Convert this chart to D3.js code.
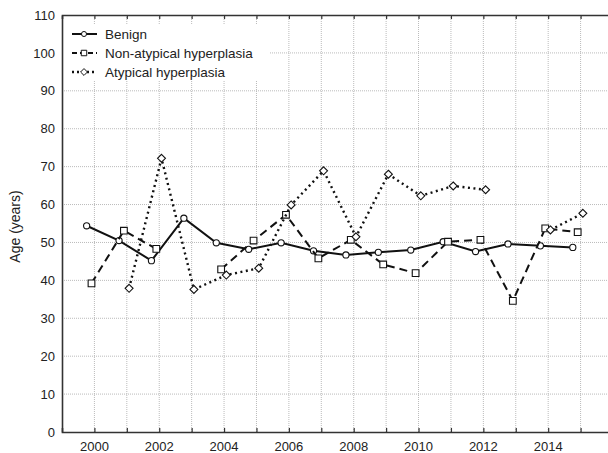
<!DOCTYPE html>
<html>
<head>
<meta charset="utf-8">
<script src="https://cdn.jsdelivr.net/npm/d3@7"></script>
<style>
  body { margin: 0; background: #fff; }
  svg { display: block; font-family: "Liberation Sans", Arial, sans-serif; }
</style>
</head>
<body>
<div id="chart"></div>
<script>
// data
const years = [2000, 2001, 2002, 2003, 2004, 2005, 2006, 2007, 2008, 2009, 2010, 2011, 2012, 2013, 2014, 2015];
const benign = [54.4, 50.5, 45.2, 56.4, 49.9, 48.2, 49.9, 47.8, 46.7, 47.4, 48.0, 50.2, 47.6, 49.6, 49.1, 48.7];
const nonAtypical = [39.2, 53.1, 48.3, null, 42.9, 50.5, 57.3, 45.8, 50.7, 44.2, 41.9, 50.2, 50.7, 34.6, 53.7, 52.7];
const atypical = [null, 37.9, 72.2, 37.6, 41.4, 43.2, 59.9, 68.9, 51.5, 68.0, 62.3, 64.9, 63.9, null, 53.3, 57.7];
const yTicks = [0, 10, 20, 30, 40, 50, 60, 70, 80, 90, 100, 110];
const xLabels = [2000, 2002, 2004, 2006, 2008, 2010, 2012, 2014];
const seriesNames = ['Benign', 'Non-atypical hyperplasia', 'Atypical hyperplasia'];

const width = 608, height = 453;
const margin = { top: 15, right: -5, bottom: 21, left: 62 };
const innerW = width - margin.left - margin.right;
const innerH = height - margin.top - margin.bottom;

const svg = d3.select('#chart')
    .append('svg')
    .attr('width', width)
    .attr('height', height);

const g = svg.append('g')
    .attr('transform', `translate(${margin.left},${margin.top})`);

const x = d3.scaleLinear().domain([1999, 2016]).range([0, innerW]);
const y = d3.scaleLinear().domain([0, 110]).range([innerH, 0]);

// grid
g.append('g')
    .selectAll('line')
    .data(d3.range(2000, 2016))
    .join('line')
    .attr('x1', d => x(d)).attr('x2', d => x(d))
    .attr('y1', 0).attr('y2', innerH)
    .attr('stroke', '#bbb')
    .attr('stroke-dasharray', '1,1');

g.append('g')
    .selectAll('line')
    .data(yTicks.slice(1, -1))
    .join('line')
    .attr('x1', 0).attr('x2', innerW)
    .attr('y1', d => y(d)).attr('y2', d => y(d))
    .attr('stroke', '#bbb')
    .attr('stroke-dasharray', '1,1');

// axes
const xAxis = g.append('g')
    .attr('transform', `translate(0,${innerH})`)
    .call(d3.axisBottom(x).tickValues(d3.range(2000, 2016)).tickSize(-4).tickFormat(''));
xAxis.select('.domain').attr('stroke', '#333').attr('stroke-width', 1.6);
xAxis.selectAll('.tick line').attr('stroke', '#333').attr('stroke-width', 1.2);

const xTop = g.append('g')
    .call(d3.axisTop(x).tickValues(d3.range(2000, 2016)).tickSize(-4).tickFormat(''));
xTop.select('.domain').attr('stroke', '#333').attr('stroke-width', 1.6);
xTop.selectAll('.tick line').attr('stroke', '#333').attr('stroke-width', 1.2);

g.append('g')
    .selectAll('text')
    .data(xLabels)
    .join('text')
    .attr('x', d => x(d))
    .attr('y', innerH + 19)
    .attr('text-anchor', 'middle')
    .attr('fill', '#222')
    .style('font-size', '13px')
    .text(d => d);

const yAxis = g.append('g')
    .call(d3.axisLeft(y).tickValues(yTicks).tickSize(0).tickPadding(7));
yAxis.select('.domain').attr('stroke', '#333').attr('stroke-width', 1.6);
yAxis.selectAll('text').attr('fill', '#222').style('font-size', '13px');

svg.append('text')
    .attr('transform', `translate(20,${margin.top + innerH / 2 + 3}) rotate(-90)`)
    .attr('text-anchor', 'middle')
    .attr('fill', '#222')
    .style('font-size', '14px')
    .text('Age (years)');

// series
const series = [
    { name: seriesNames[0], values: benign, shift: -0.24, dash: null, width: 2, marker: 'circle' },
    { name: seriesNames[1], values: nonAtypical, shift: -0.09, dash: '8,5', width: 2, marker: 'square' },
    { name: seriesNames[2], values: atypical, shift: 0.07, dash: '2,3.5', width: 2.4, marker: 'diamond' }
];

const symbols = {
    circle: d3.symbol().type(d3.symbolCircle).size(30),
    square: d3.symbol().type(d3.symbolSquare).size(45),
    diamond: d3.symbol().type(d3.symbolDiamond2).size(40)
};

series.forEach(s => {
    const pts = years.map((yr, i) => ({ yr: yr + s.shift, v: s.values[i] }));
    const line = d3.line()
        .defined(d => d.v != null)
        .x(d => x(d.yr))
        .y(d => y(d.v));

    g.append('path')
        .datum(pts)
        .attr('fill', 'none')
        .attr('stroke', '#111')
        .attr('stroke-width', s.width)
        .attr('stroke-dasharray', s.dash)
        .attr('d', line);

    g.append('g')
        .selectAll('path')
        .data(pts.filter(d => d.v != null))
        .join('path')
        .attr('transform', d => `translate(${x(d.yr)},${y(d.v)})`)
        .attr('d', symbols[s.marker])
        .attr('fill', '#fff')
        .attr('stroke', '#111')
        .attr('stroke-width', 1.1);
});

// legend
const legend = g.append('g').attr('transform', 'translate(2,10)');
legend.append('rect')
    .attr('width', 205).attr('height', 56)
    .attr('fill', '#fff');

series.forEach((s, i) => {
    const row = legend.append('g').attr('transform', `translate(0,${9 + i * 19})`);
    row.append('line')
        .attr('x1', 8).attr('x2', 33)
        .attr('stroke', '#111')
        .attr('stroke-width', s.width)
        .attr('stroke-dasharray', s.dash ? (i === 1 ? '5,3' : '2,3') : null);
    row.append('path')
        .attr('transform', 'translate(20,0)')
        .attr('d', symbols[s.marker].size(s.marker === 'circle' ? 20 : 30))
        .attr('fill', '#fff')
        .attr('stroke', '#111')
        .attr('stroke-width', 1);
    row.append('text')
        .attr('x', 41)
        .attr('y', 5)
        .attr('fill', '#222')
        .style('font-size', '13.5px')
        .text(s.name);
});
</script>
</body>
</html>
